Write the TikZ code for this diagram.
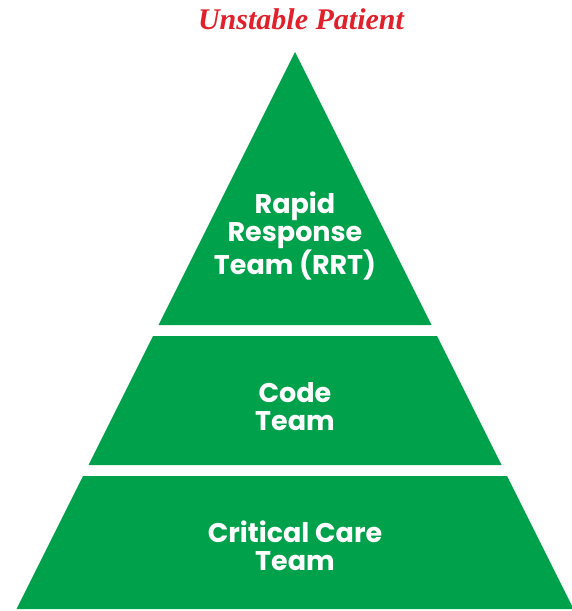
\documentclass[tikz,border=0pt]{standalone}
\usepackage{fontspec}
\setmainfont{Liberation Serif}
\newfontfamily\popp{Poppins}
\definecolor{pgreen}{HTML}{00A14B}
\definecolor{tred}{HTML}{E0202B}
\begin{document}
\begin{tikzpicture}[x=1pt,y=-1pt,
  tier/.style={fill=pgreen,draw=none},
  lbl/.style={text=white,font=\popp\bfseries\fontsize{27}{27.5}\selectfont,align=center,inner sep=0pt,anchor=base},
  ttl/.style={text=tred,font=\bfseries\itshape\fontsize{30}{32}\selectfont,inner sep=0pt,anchor=base}]
\useasboundingbox (0,0) rectangle (571,611);
% apex (295,52), half-width = 0.5*(y-52)
\fill[tier] (295,52) -- (431.5,325) -- (158.5,325) -- cycle;
\fill[tier] (153,336) -- (437,336) -- (501.5,465) -- (88.5,465) -- cycle;
\fill[tier] (83,476) -- (507,476) -- (573.5,609) -- (16.5,609) -- cycle;
\node[ttl] (title) at (301,29) {Unstable Patient};
\node[lbl] (rrt) at (295,274) {Rapid\\Response\\Team (RRT)};
\node[lbl] (code) at (295,430) {Code\\Team};
\node[lbl] (cct) at (295,570) {Critical Care\\Team};
\end{tikzpicture}
\end{document}
